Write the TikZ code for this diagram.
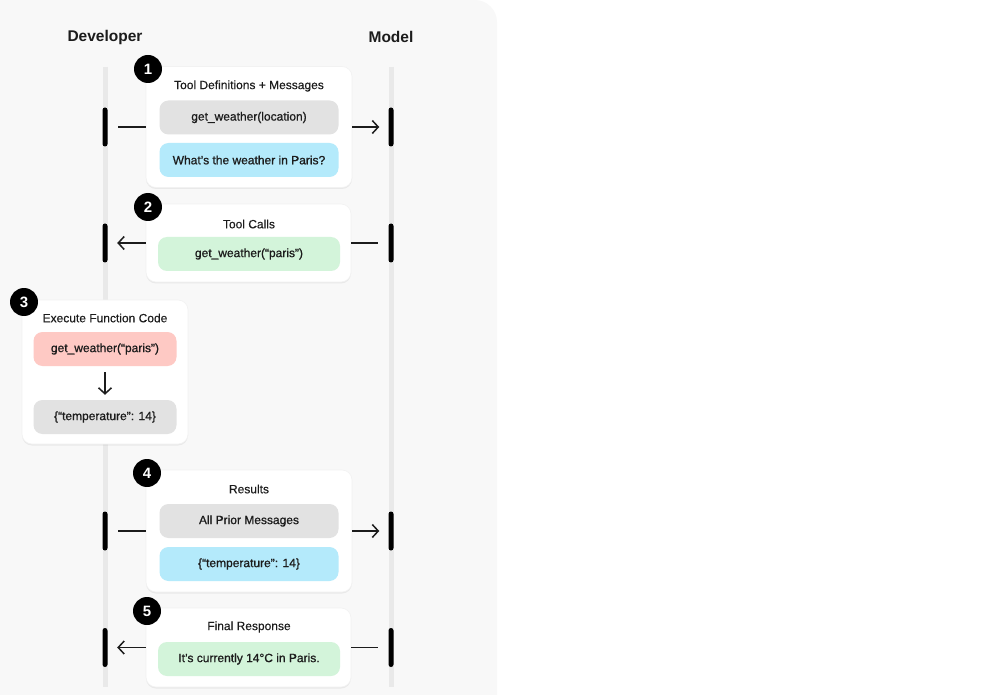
\documentclass[tikz,border=0pt]{standalone}
\usepackage{fontspec}
\setmainfont{Liberation Sans}
\newfontfamily\medfont{Liberation Sans}[FakeBold=0.9]
\newfontfamily\semifont{Liberation Sans}[FakeBold=0.3]
\usetikzlibrary{arrows.meta,shadows}

\definecolor{bgcol}{HTML}{F8F8F8}
\definecolor{ink}{HTML}{1C1C1C}
\definecolor{lifecol}{HTML}{E9E9E9}
\definecolor{greyfill}{HTML}{E2E2E2}
\definecolor{bluefill}{HTML}{B4EAFB}
\definecolor{greenfill}{HTML}{D3F4DA}
\definecolor{redfill}{HTML}{FEC9C4}

\tikzset{
  card/.style={fill=white, draw=black!5, line width=0.6pt, rounded corners=10pt,
    drop shadow={shadow xshift=0pt, shadow yshift=-1.5pt, opacity=0.12}},
  pill/.style={rounded corners=9pt, inner sep=0pt, minimum height=34pt,
    text=ink, font=\medfont\fontsize{12}{14}\selectfont},
  ttl/.style={text=ink, inner sep=0pt, font=\semifont\fontsize{12}{14}\selectfont},
  head/.style={text=ink, inner sep=0pt, font=\bfseries\fontsize{15.5}{18}\selectfont},
  badge/.style={circle, fill=black, text=white, minimum size=28pt, inner sep=0pt,
    font=\bfseries\fontsize{15}{15}\selectfont},
  bar/.style={fill=black, minimum width=5pt, minimum height=39pt, inner sep=0pt,
    rounded corners=2.5pt},
  lifeline/.style={lifecol, line width=5pt},
  link/.style={ink, line width=1.5pt},
  tip/.style={-{Straight Barb[length=6pt,width=13pt]}}
}

\begin{document}
\begin{tikzpicture}[x=1pt, y=-1pt]
  \useasboundingbox (0,0) rectangle (991,695);
  % backdrop, rounded at the top right only
  \fill[bgcol, rounded corners=22pt] (-40,0) rectangle (497,740);

  % lanes
  \node[head] (dev) at (105,37) {Developer};
  \node[head] (model) at (391,37) {Model};
  \coordinate (devtop) at (105,67);
  \coordinate (devbot) at (105,687);
  \coordinate (modtop) at (391,67);
  \coordinate (modbot) at (391,687);
  \draw[lifeline] (devtop) -- (devbot);
  \draw[lifeline] (modtop) -- (modbot);

  % step 1
  \node[card, minimum width=206pt, minimum height=121pt] (card1) at (249,127) {};
  \node[ttl] (ttl1) at (249,86) {Tool Definitions + Messages};
  \node[pill, fill=greyfill, minimum width=179pt] (def1) at (249,117.5) {get\_weather(location)};
  \node[pill, fill=bluefill, minimum width=179pt] (msg1) at (249,160) {What’s the weather in Paris?};
  \node[badge] (n1) at (148,69) {1};
  \node[bar] (dev1) at (105,127) {};
  \node[bar] (mod1) at (391,127) {};
  \draw[link, shorten <=10.5pt] (dev1.east) -- (card1.west);
  \draw[link, tip, shorten >=9pt] (card1.east) -- (mod1.west);

  % step 2
  \node[card, minimum width=205pt, minimum height=78pt] (card2) at (248.5,243) {};
  \node[ttl] (ttl2) at (249,224) {Tool Calls};
  \node[pill, fill=greenfill, minimum width=182pt] (call2) at (249,254) {get\_weather(“paris”)};
  \node[badge] (n2) at (148,207) {2};
  \node[bar] (dev2) at (105,243) {};
  \node[bar] (mod2) at (391,243) {};
  \draw[link, tip, shorten >=9.5pt] (card2.west) -- (dev2.east);
  \draw[link, shorten >=10.5pt] (card2.east) -- (mod2.west);

  % step 3
  \node[card, minimum width=166pt, minimum height=144pt] (card3) at (105,372) {};
  \node[ttl] (ttl3) at (105,318) {Execute Function Code};
  \node[pill, fill=redfill, minimum width=143pt] (run3) at (105,349) {get\_weather(“paris”)};
  \node[pill, fill=greyfill, minimum width=143pt] (out3) at (105,417) {\{“temperature”: 14\}};
  \node[badge] (n3) at (24,302) {3};
  \draw[link, tip, shorten <=6pt, shorten >=5pt] (run3.south) -- (out3.north);

  % step 4
  \node[card, minimum width=206pt, minimum height=122pt] (card4) at (249,531) {};
  \node[ttl] (ttl4) at (249,489) {Results};
  \node[pill, fill=greyfill, minimum width=179pt] (prior4) at (249,521) {All Prior Messages};
  \node[pill, fill=bluefill, minimum width=179pt] (res4) at (249,564) {\{“temperature”: 14\}};
  \node[badge] (n4) at (147,473) {4};
  \node[bar] (dev4) at (105,531) {};
  \node[bar] (mod4) at (391,531) {};
  \draw[link, shorten <=10.5pt] (dev4.east) -- (card4.west);
  \draw[link, tip, shorten >=9pt] (card4.east) -- (mod4.west);

  % step 5
  \node[card, minimum width=205pt, minimum height=79pt] (card5) at (248.5,647.5) {};
  \node[ttl] (ttl5) at (249,627) {Final Response};
  \node[pill, fill=greenfill, minimum width=182pt] (final5) at (249,659) {It’s currently 14°C in Paris.};
  \node[badge] (n5) at (147,611) {5};
  \node[bar] (dev5) at (105,647.5) {};
  \node[bar] (mod5) at (391,647.5) {};
  \draw[link, tip, shorten >=9.5pt] (card5.west) -- (dev5.east);
  \draw[link, shorten >=10.5pt] (card5.east) -- (mod5.west);
\end{tikzpicture}
\end{document}
